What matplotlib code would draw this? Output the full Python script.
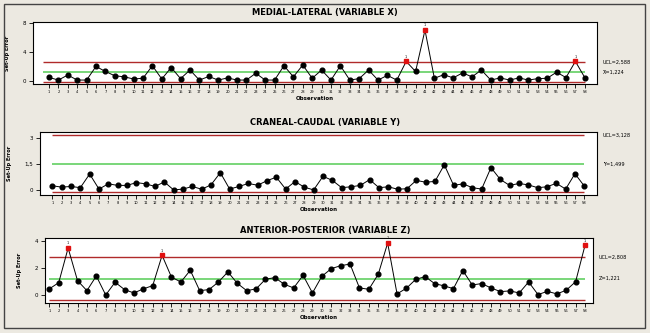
import matplotlib.pyplot as plt
from matplotlib.patches import Rectangle

# Observations 1..58
obs = list(range(1, 59))

# Medial-lateral set-up error (X)
x_err = [0.47, 0.10, 0.80, 0.10, 0.10, 2.00, 1.30, 0.70, 0.55, 0.25,
         0.35, 2.10, 0.25, 1.85, 0.30, 1.50, 0.10, 0.60, 0.10, 0.40,
         0.10, 0.10, 1.05, 0.10, 0.10, 2.10, 0.55, 2.20, 0.35, 1.50,
         0.10, 2.10, 0.10, 0.30, 1.50, 0.10, 0.75, 0.10, 2.70, 1.30,
         7.07, 0.35, 0.85, 0.40, 1.10, 0.55, 1.50, 0.10, 0.40, 0.10,
         0.40, 0.10, 0.30, 0.35, 1.20, 0.45, 2.70, 0.45]

# Craneal-caudal set-up error (Y)
y_err = [0.24, 0.16, 0.20, 0.13, 0.91, 0.05, 0.35, 0.26, 0.26, 0.42,
         0.35, 0.20, 0.46, 0.00, 0.05, 0.20, 0.04, 0.29, 0.99, 0.05,
         0.20, 0.37, 0.27, 0.53, 0.73, 0.05, 0.48, 0.16, 0.00, 0.78,
         0.55, 0.13, 0.18, 0.26, 0.59, 0.13, 0.18, 0.04, 0.07, 0.55,
         0.44, 0.49, 1.44, 0.26, 0.35, 0.13, 0.05, 1.28, 0.60, 0.26,
         0.37, 0.29, 0.13, 0.18, 0.38, 0.05, 0.93, 0.22]

# Anterior-posterior set-up error (Z)
z_err = [0.47, 0.93, 3.48, 1.08, 0.34, 1.42, 0.02, 0.96, 0.42, 0.17,
         0.47, 0.71, 2.94, 1.33, 0.98, 1.84, 0.34, 0.42, 0.98, 1.72,
         0.88, 0.34, 0.47, 1.18, 1.30, 0.81, 0.54, 1.47, 0.17, 1.40,
         1.96, 2.18, 2.30, 0.54, 0.44, 1.55, 3.85, 0.10, 0.52, 1.18,
         1.37, 0.86, 0.69, 0.49, 1.82, 0.76, 0.86, 0.54, 0.27, 0.32,
         0.17, 0.98, 0.05, 0.29, 0.10, 0.37, 1.00, 3.68]

titles = ['MEDIAL-LATERAL (VARIABLE X)', 'CRANEAL-CAUDAL (VARIABLE Y)',
          'ANTERIOR-POSTERIOR (VARIABLE Z)']
means = [1.224, 1.499, 1.221]
ucls = [2.588, 3.128, 2.808]
lcls = [-0.14, -0.13, -0.366]
mean_labels = ['X\u0304=1,224', 'Y\u0304=1,499', 'Z\u0304=1,221']
ucl_labels = ['UCL=2,588', 'UCL=3,128', 'UCL=2,808']
yticks = [[0, 4, 8], [0, 1.5, 3], [0, 2, 4]]
ytick_labels = [['0', '4', '8'], ['0', '1,5', '3'], ['0', '2', '4']]
series = [x_err, y_err, z_err]

bg = '#ECE9E1'
fig = plt.figure(figsize=(6.5, 3.33), dpi=100, facecolor=bg)
fig.patches.append(Rectangle((4 / 650, 5 / 333), 641 / 650, 324 / 333,
                             transform=fig.transFigure, fill=False,
                             edgecolor='#444444', linewidth=1.0))

# axes boxes in pixels: left, right, top, bottom
boxes = [(33, 597, 22, 84), (40, 597, 132, 195), (45, 593, 238, 303)]
ylims = [(-0.45, 8.2), (-0.29, 3.32), (-0.57, 4.22)]
xlims = [(-0.7, 59.3), (-0.32, 59.36), (0.54, 58.85)]
line_start = [0.4, 1, 1]
title_y = [12, 122, 230]

for i in range(3):
    l, r, t, b = boxes[i]
    ax = fig.add_axes([l / 650, 1 - b / 333, (r - l) / 650, (b - t) / 333])
    ax.set_facecolor('white')
    vals = series[i]
    ax.hlines([ucls[i], lcls[i]], line_start[i], 58, color='#B02A2A', linewidth=1.0, zorder=1)
    ax.hlines(means[i], line_start[i], 58, color='#55CC55', linewidth=1.1, zorder=1)
    ax.plot(obs, vals, color='black', linewidth=0.7, zorder=2)
    normal = [(o, v) for o, v in zip(obs, vals) if v <= ucls[i]]
    out = [(o, v) for o, v in zip(obs, vals) if v > ucls[i]]
    ax.plot([p[0] for p in normal], [p[1] for p in normal], 'o', color='black',
            markersize=3.4, zorder=3)
    ax.plot([p[0] for p in out], [p[1] for p in out], 's', color='#E01010',
            markersize=3.4, zorder=4)
    for o, v in out:
        ax.annotate('1', (o, v), xytext=(0, 2), textcoords='offset points',
                    ha='center', va='bottom', fontsize=2.5, color='black')
    ax.set_xlim(*xlims[i])
    ax.set_ylim(*ylims[i])
    ax.set_xticks(obs)
    ax.set_xticklabels([str(o) for o in obs], fontsize=2.6)
    ax.set_yticks(yticks[i])
    ax.set_yticklabels(ytick_labels[i], fontsize=4)
    ax.tick_params(axis='x', length=3, width=0.6, pad=1.5)
    ax.tick_params(axis='y', length=3, width=0.6, pad=2)
    for s in ax.spines.values():
        s.set_linewidth(0.8)
    ax.set_xlabel('Observation', fontsize=4, fontweight='bold', labelpad=1)
    ax.set_ylabel('Set-Up Error', fontsize=3.6, fontweight='bold', labelpad=9)
    fig.text(325 / 650, 1 - title_y[i] / 333, titles[i], ha='center', va='center',
             fontsize=6.0, fontweight='bold')
    ax.text(1.01, ucls[i], ucl_labels[i], transform=ax.get_yaxis_transform(),
            fontsize=3.6, va='center', ha='left')
    ax.text(1.01, means[i], mean_labels[i], transform=ax.get_yaxis_transform(),
            fontsize=3.6, va='center', ha='left')

plt.savefig('out.png', dpi=100, facecolor=bg)
